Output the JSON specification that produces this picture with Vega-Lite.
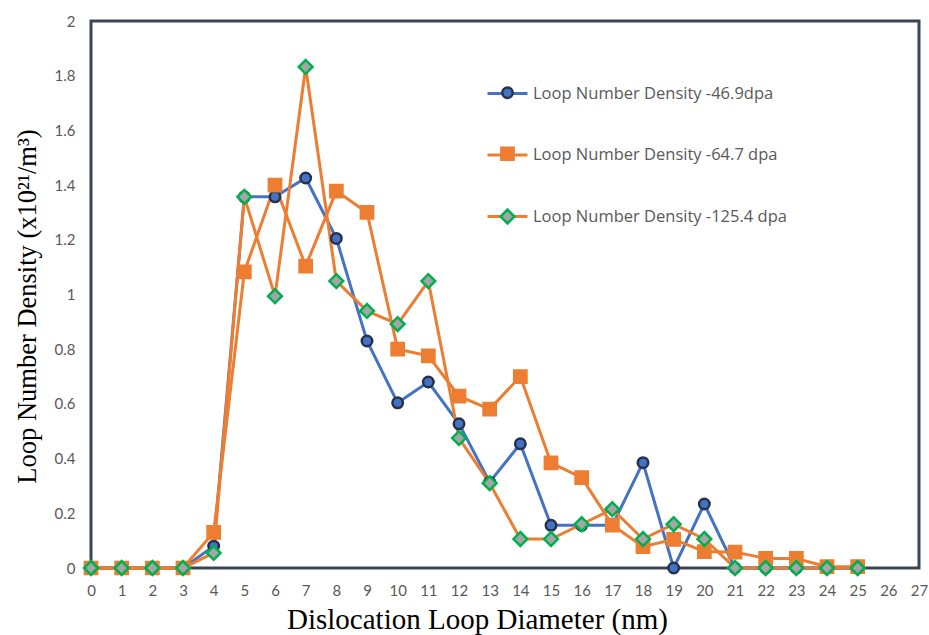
{
  "$schema": "https://vega.github.io/schema/vega-lite/v6.json",
  "width": 828,
  "height": 547,
  "autosize": {"type": "none"},
  "padding": {"left": 91, "top": 21, "right": 10, "bottom": 67},
  "background": "white",
  "config": {
    "view": {"stroke": "#3b4556", "strokeWidth": 3},
    "axis": {"grid": false, "ticks": false, "domain": false, "labelFlush": false, "labelOverlap": false, "labelFont": "Lato", "labelFontSize": 15, "labelColor": "#595959", "titleFont": "Liberation Serif", "titleFontWeight": "normal", "titleColor": "#000000"}
  },
  "datasets": {
    "loops": [
      {"diameter": 0, "density": 0, "series": "Loop Number Density -46.9dpa"},
      {"diameter": 1, "density": 0, "series": "Loop Number Density -46.9dpa"},
      {"diameter": 2, "density": 0, "series": "Loop Number Density -46.9dpa"},
      {"diameter": 3, "density": 0, "series": "Loop Number Density -46.9dpa"},
      {"diameter": 4, "density": 0.08, "series": "Loop Number Density -46.9dpa"},
      {"diameter": 5, "density": 1.357, "series": "Loop Number Density -46.9dpa"},
      {"diameter": 6, "density": 1.357, "series": "Loop Number Density -46.9dpa"},
      {"diameter": 7, "density": 1.426, "series": "Loop Number Density -46.9dpa"},
      {"diameter": 8, "density": 1.205, "series": "Loop Number Density -46.9dpa"},
      {"diameter": 9, "density": 0.83, "series": "Loop Number Density -46.9dpa"},
      {"diameter": 10, "density": 0.604, "series": "Loop Number Density -46.9dpa"},
      {"diameter": 11, "density": 0.68, "series": "Loop Number Density -46.9dpa"},
      {"diameter": 12, "density": 0.527, "series": "Loop Number Density -46.9dpa"},
      {"diameter": 13, "density": 0.314, "series": "Loop Number Density -46.9dpa"},
      {"diameter": 14, "density": 0.454, "series": "Loop Number Density -46.9dpa"},
      {"diameter": 15, "density": 0.156, "series": "Loop Number Density -46.9dpa"},
      {"diameter": 16, "density": 0.156, "series": "Loop Number Density -46.9dpa"},
      {"diameter": 17, "density": 0.156, "series": "Loop Number Density -46.9dpa"},
      {"diameter": 18, "density": 0.385, "series": "Loop Number Density -46.9dpa"},
      {"diameter": 19, "density": 0, "series": "Loop Number Density -46.9dpa"},
      {"diameter": 20, "density": 0.234, "series": "Loop Number Density -46.9dpa"},
      {"diameter": 21, "density": 0, "series": "Loop Number Density -46.9dpa"},
      {"diameter": 22, "density": 0, "series": "Loop Number Density -46.9dpa"},
      {"diameter": 23, "density": 0, "series": "Loop Number Density -46.9dpa"},
      {"diameter": 24, "density": 0, "series": "Loop Number Density -46.9dpa"},
      {"diameter": 25, "density": 0, "series": "Loop Number Density -46.9dpa"},
      {"diameter": 0, "density": 0, "series": "Loop Number Density -64.7 dpa"},
      {"diameter": 1, "density": 0, "series": "Loop Number Density -64.7 dpa"},
      {"diameter": 2, "density": 0, "series": "Loop Number Density -64.7 dpa"},
      {"diameter": 3, "density": 0, "series": "Loop Number Density -64.7 dpa"},
      {"diameter": 4, "density": 0.13, "series": "Loop Number Density -64.7 dpa"},
      {"diameter": 5, "density": 1.083, "series": "Loop Number Density -64.7 dpa"},
      {"diameter": 6, "density": 1.4, "series": "Loop Number Density -64.7 dpa"},
      {"diameter": 7, "density": 1.104, "series": "Loop Number Density -64.7 dpa"},
      {"diameter": 8, "density": 1.378, "series": "Loop Number Density -64.7 dpa"},
      {"diameter": 9, "density": 1.3, "series": "Loop Number Density -64.7 dpa"},
      {"diameter": 10, "density": 0.8, "series": "Loop Number Density -64.7 dpa"},
      {"diameter": 11, "density": 0.776, "series": "Loop Number Density -64.7 dpa"},
      {"diameter": 12, "density": 0.628, "series": "Loop Number Density -64.7 dpa"},
      {"diameter": 13, "density": 0.581, "series": "Loop Number Density -64.7 dpa"},
      {"diameter": 14, "density": 0.7, "series": "Loop Number Density -64.7 dpa"},
      {"diameter": 15, "density": 0.384, "series": "Loop Number Density -64.7 dpa"},
      {"diameter": 16, "density": 0.33, "series": "Loop Number Density -64.7 dpa"},
      {"diameter": 17, "density": 0.157, "series": "Loop Number Density -64.7 dpa"},
      {"diameter": 18, "density": 0.078, "series": "Loop Number Density -64.7 dpa"},
      {"diameter": 19, "density": 0.105, "series": "Loop Number Density -64.7 dpa"},
      {"diameter": 20, "density": 0.06, "series": "Loop Number Density -64.7 dpa"},
      {"diameter": 21, "density": 0.058, "series": "Loop Number Density -64.7 dpa"},
      {"diameter": 22, "density": 0.035, "series": "Loop Number Density -64.7 dpa"},
      {"diameter": 23, "density": 0.035, "series": "Loop Number Density -64.7 dpa"},
      {"diameter": 24, "density": 0.005, "series": "Loop Number Density -64.7 dpa"},
      {"diameter": 25, "density": 0.005, "series": "Loop Number Density -64.7 dpa"},
      {"diameter": 0, "density": 0, "series": "Loop Number Density -125.4 dpa"},
      {"diameter": 1, "density": 0, "series": "Loop Number Density -125.4 dpa"},
      {"diameter": 2, "density": 0, "series": "Loop Number Density -125.4 dpa"},
      {"diameter": 3, "density": 0, "series": "Loop Number Density -125.4 dpa"},
      {"diameter": 4, "density": 0.055, "series": "Loop Number Density -125.4 dpa"},
      {"diameter": 5, "density": 1.357, "series": "Loop Number Density -125.4 dpa"},
      {"diameter": 6, "density": 0.994, "series": "Loop Number Density -125.4 dpa"},
      {"diameter": 7, "density": 1.832, "series": "Loop Number Density -125.4 dpa"},
      {"diameter": 8, "density": 1.049, "series": "Loop Number Density -125.4 dpa"},
      {"diameter": 9, "density": 0.94, "series": "Loop Number Density -125.4 dpa"},
      {"diameter": 10, "density": 0.892, "series": "Loop Number Density -125.4 dpa"},
      {"diameter": 11, "density": 1.049, "series": "Loop Number Density -125.4 dpa"},
      {"diameter": 12, "density": 0.475, "series": "Loop Number Density -125.4 dpa"},
      {"diameter": 13, "density": 0.31, "series": "Loop Number Density -125.4 dpa"},
      {"diameter": 14, "density": 0.106, "series": "Loop Number Density -125.4 dpa"},
      {"diameter": 15, "density": 0.106, "series": "Loop Number Density -125.4 dpa"},
      {"diameter": 16, "density": 0.16, "series": "Loop Number Density -125.4 dpa"},
      {"diameter": 17, "density": 0.215, "series": "Loop Number Density -125.4 dpa"},
      {"diameter": 18, "density": 0.106, "series": "Loop Number Density -125.4 dpa"},
      {"diameter": 19, "density": 0.16, "series": "Loop Number Density -125.4 dpa"},
      {"diameter": 20, "density": 0.106, "series": "Loop Number Density -125.4 dpa"},
      {"diameter": 21, "density": 0, "series": "Loop Number Density -125.4 dpa"},
      {"diameter": 22, "density": 0, "series": "Loop Number Density -125.4 dpa"},
      {"diameter": 23, "density": 0, "series": "Loop Number Density -125.4 dpa"},
      {"diameter": 24, "density": 0, "series": "Loop Number Density -125.4 dpa"},
      {"diameter": 25, "density": 0, "series": "Loop Number Density -125.4 dpa"}
    ]
  },
  "data": {"name": "loops"},
  "encoding": {
    "x": {"field": "diameter", "type": "quantitative", "scale": {"domain": [0, 27], "nice": false, "zero": false},
      "axis": {"values": [0,1,2,3,4,5,6,7,8,9,10,11,12,13,14,15,16,17,18,19,20,21,22,23,24,25,26,27], "labelPadding": 15, "labelAngle": 0, "title": "Dislocation Loop Diameter (nm)", "titleFontSize": 29, "titleX": 386, "titleY": 51, "titleBaseline": "middle", "titleAlign": "center"}},
    "y": {"field": "density", "type": "quantitative", "scale": {"domain": [0, 2], "nice": false},
      "axis": {"values": [0,0.2,0.4,0.6,0.8,1,1.2,1.4,1.6,1.8,2], "format": ".1~f", "labelPadding": 16, "title": "Loop Number Density (x10²¹/m³)", "titleFontSize": 26.5, "titleX": -64, "titleY": 285, "titleAngle": -90, "titleBaseline": "middle", "titleAlign": "center"}}
  },
  "layer": [
    {
      "transform": [{"calculate": "datum.series", "as": "line_series"}],
      "mark": {"type": "line", "strokeWidth": 3},
      "encoding": {
        "color": {"field": "line_series", "type": "nominal",
          "sort": ["Loop Number Density -46.9dpa", "Loop Number Density -64.7 dpa", "Loop Number Density -125.4 dpa"],
          "scale": {"range": ["#4472C4", "#ED7D31", "#ED7D31"]},
          "legend": {"orient": "none", "legendX": 395, "legendY": 51, "title": null, "symbolType": "stroke", "symbolSize": 1600, "symbolStrokeWidth": 3, "labelFont": "Open Sans", "labelFontSize": 16.5, "labelColor": "#595959", "labelOffset": 4, "rowPadding": 31.5, "padding": 0, "labelLimit": 400}
        }
      }
    },
    {
      "mark": {"type": "point", "filled": true, "opacity": 1, "strokeWidth": 2.5},
      "encoding": {
        "shape": {"field": "series", "type": "nominal",
          "scale": {"domain": ["Loop Number Density -46.9dpa", "Loop Number Density -64.7 dpa", "Loop Number Density -125.4 dpa"], "range": ["circle", "square", "diamond"]},
          "legend": {"orient": "none", "legendX": 408, "legendY": 64, "title": null, "symbolStrokeWidth": 2.5, "labelExpr": "''", "labelFontSize": 15.5, "labelOffset": 0, "rowPadding": 39, "padding": 0}},
        "fill": {"field": "series", "type": "nominal",
          "scale": {"domain": ["Loop Number Density -46.9dpa", "Loop Number Density -64.7 dpa", "Loop Number Density -125.4 dpa"], "range": ["#4472C4", "#ED7D31", "#A5A5A5"]}},
        "stroke": {"field": "series", "type": "nominal",
          "scale": {"domain": ["Loop Number Density -46.9dpa", "Loop Number Density -64.7 dpa", "Loop Number Density -125.4 dpa"], "range": ["#263248", "#ED7D31", "#00B050"]}},
        "size": {"field": "series", "type": "nominal",
          "scale": {"domain": ["Loop Number Density -46.9dpa", "Loop Number Density -64.7 dpa", "Loop Number Density -125.4 dpa"], "range": [110, 190, 55]}}
      }
    }
  ]
}
